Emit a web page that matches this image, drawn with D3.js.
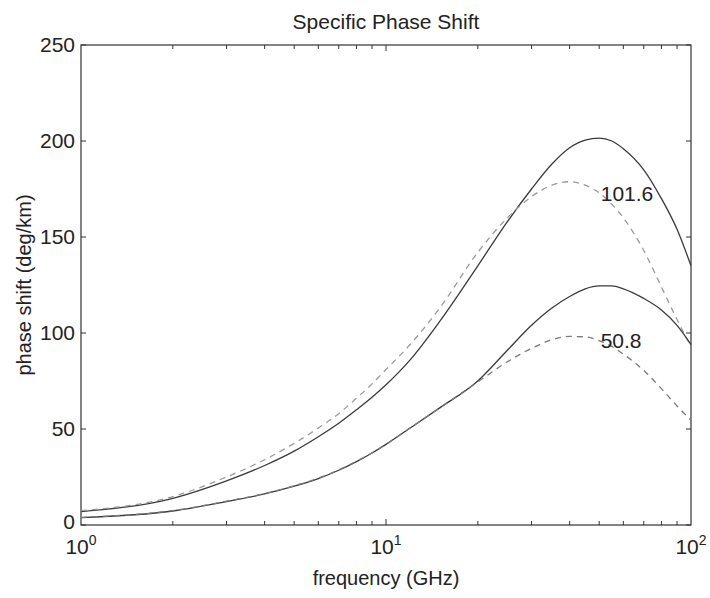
<!DOCTYPE html>
<html>
<head>
<meta charset="utf-8">
<script src="https://cdn.jsdelivr.net/npm/d3@7"></script>
<style>
  body { margin: 0; background: #fff; }
  text { font-family: "Liberation Sans", Arial, sans-serif; fill: #222; }
</style>
</head>
<body>
<div id="chart"></div>
<script>
// frequency samples (GHz)
var freq = [1, 2, 3, 4, 5, 6, 7, 8, 9, 10, 12, 15, 20, 25, 30, 35, 40, 45, 50, 55, 60, 70, 80, 90, 100];

// 101.6 curves
var solidHigh  = [7, 13.9, 23, 31, 38.5, 46, 53, 60, 66.5, 73, 86, 106, 135, 158, 175, 188, 196.5, 200.5, 201.5, 200, 196, 185, 170, 154, 135];
var dashedHigh = [7.5, 14.8, 25, 34, 42.5, 50.5, 58, 66, 73.5, 81, 94, 113, 142, 160, 171, 177, 178.8, 177, 173, 167, 160, 143, 124, 107, 93];

// 50.8 curves
var solidLow  = [3.8, 7.3, 12.2, 16.2, 20.2, 24.2, 28.5, 33, 37.5, 42, 50.5, 61, 75, 91, 104, 113, 119, 123, 124.5, 124.5, 123, 118, 112, 104, 94];
var dashedLow = [4, 7.5, 12.4, 16.4, 20.4, 24.4, 28.7, 33.2, 37.6, 42, 50.5, 61, 74.5, 85, 92, 96.5, 98.2, 98, 96, 93, 89, 80.5, 71, 62, 54.5];

var yTicks = [0, 50, 100, 150, 200, 250];
var xDecades = [1, 10, 100];
var curveLabels = [
  {text: "101.6", f: 61.7, v: 168.5},
  {text: "50.8", f: 59, v: 92}
];

var width = 710, height = 598;
var margin = {left: 81, right: 19, top: 45, bottom: 73};

var x = d3.scaleLog().domain([1, 100]).range([margin.left, width - margin.right]);
var y = d3.scaleLinear().domain([0, 250]).range([height - margin.bottom, margin.top]);

var svg = d3.select("#chart").append("svg")
    .attr("width", width)
    .attr("height", height);

var x0 = x.range()[0], x1 = x.range()[1], y0 = y.range()[0], y1 = y.range()[1];

// minor + major x ticks (inside, top and bottom)
var minor = [];
for (var d = 1; d < 100; d *= 10) for (var k = 2; k <= 9; k++) minor.push(d * k);
var ticks = svg.append("g").attr("stroke", "#333").attr("stroke-width", 1);
minor.concat([10]).forEach(function(f) {
  var len = f === 10 ? 6 : 4;
  ticks.append("line").attr("x1", x(f)).attr("x2", x(f)).attr("y1", y0).attr("y2", y0 - len);
  ticks.append("line").attr("x1", x(f)).attr("x2", x(f)).attr("y1", y1).attr("y2", y1 + len);
});
yTicks.forEach(function(v) {
  ticks.append("line").attr("x1", x0).attr("x2", x0 + 5).attr("y1", y(v)).attr("y2", y(v));
  ticks.append("line").attr("x1", x1).attr("x2", x1 - 5).attr("y1", y(v)).attr("y2", y(v));
});

// box
svg.append("rect")
    .attr("x", x0).attr("y", y1)
    .attr("width", x1 - x0).attr("height", y0 - y1)
    .attr("fill", "none").attr("stroke", "#333").attr("stroke-width", 1.2);

// y tick labels
svg.append("g").selectAll("text")
    .data(yTicks)
  .enter().append("text")
    .attr("x", x0 - 6)
    .attr("y", function(d) { return d === 0 ? y(d) - 3 : y(d); })
    .attr("dy", "0.35em")
    .attr("text-anchor", "end")
    .style("font-size", "21px")
    .text(function(d) { return d; });

// x tick labels 10^n
var xl = svg.append("g").selectAll("text")
    .data(xDecades)
  .enter().append("text")
    .attr("x", function(d) { return x(d); })
    .attr("y", y0 + 29)
    .attr("text-anchor", "middle")
    .style("font-size", "21px");
xl.append("tspan").text("10");
xl.append("tspan").attr("dy", "-9").style("font-size", "14px")
    .text(function(d) { return Math.round(Math.log10(d)); });

// curves
var line = d3.line()
    .curve(d3.curveMonotoneX)
    .x(function(d) { return x(d[0]); })
    .y(function(d) { return y(d[1]); });

var series = [
  {vals: solidHigh, color: "#3a3a3a", dash: null},
  {vals: dashedHigh, color: "#9a9a9a", dash: "6,5"},
  {vals: solidLow, color: "#3a3a3a", dash: null},
  {vals: dashedLow, color: "#7a7a7a", dash: "6,5"}
];

svg.append("g").selectAll("path")
    .data(series)
  .enter().append("path")
    .attr("d", function(s) { return line(d3.zip(freq, s.vals)); })
    .attr("fill", "none")
    .attr("stroke", function(s) { return s.color; })
    .attr("stroke-width", 1.3)
    .attr("stroke-dasharray", function(s) { return s.dash; });

// curve labels
svg.append("g").selectAll("text")
    .data(curveLabels)
  .enter().append("text")
    .attr("x", function(d) { return x(d.f); })
    .attr("y", function(d) { return y(d.v); })
    .attr("text-anchor", "middle")
    .style("font-size", "21px")
    .text(function(d) { return d.text; });

// title & axis labels
svg.append("text")
    .attr("x", (x0 + x1) / 2).attr("y", 29)
    .attr("text-anchor", "middle")
    .style("font-size", "21px")
    .text("Specific Phase Shift");

svg.append("text")
    .attr("x", (x0 + x1) / 2).attr("y", 585)
    .attr("text-anchor", "middle")
    .style("font-size", "20px")
    .text("frequency (GHz)");

svg.append("text")
    .attr("transform", "translate(31," + ((y0 + y1) / 2) + ") rotate(-90)")
    .attr("text-anchor", "middle")
    .style("font-size", "20px")
    .text("phase shift (deg/km)");
</script>
</body>
</html>
